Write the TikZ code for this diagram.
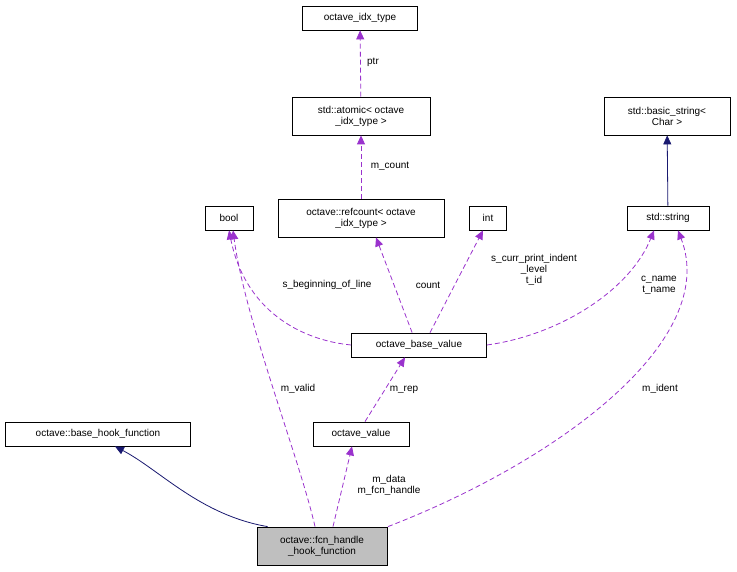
\documentclass[tikz,border=0pt]{standalone}
\usepackage{fontspec}
\setmainfont{Liberation Sans}
\usetikzlibrary{arrows.meta}
\definecolor{dpurple}{RGB}{154,50,205}
\definecolor{dblue}{RGB}{25,25,112}
\begin{document}
\begin{tikzpicture}[x=1pt,y=-1pt,
  box/.style={draw,line width=0.8pt,font=\fontsize{10}{11}\selectfont,align=center,inner sep=2pt,minimum height=24pt},
  dep/.style={color=dpurple,dashed,line width=0.8pt,dash pattern=on 5pt off 3pt,-{Triangle[length=9pt,width=8pt,fill=dpurple]}},
  inh/.style={color=dblue,line width=0.8pt,-{Triangle[length=9pt,width=8pt,fill=dblue]}},
  lbl/.style={font=\fontsize{10}{11}\selectfont,align=center,inner sep=1pt,text=black}]
\useasboundingbox (0,0) rectangle (737,572);
\node[box,minimum width=115pt] (idx) at (360,18) {octave\_idx\_type};
\node[box,minimum width=138pt,minimum height=38pt] (atm) at (361,116) {std::atomic< octave\\\_idx\_type >};
\node[box,minimum width=166pt,minimum height=38pt] (ref) at (361,218) {octave::refcount< octave\\\_idx\_type >};
\node[box,minimum width=48pt] (bool) at (229,218) {bool};
\node[box,minimum width=37pt] (int) at (488,218) {int};
\node[box,minimum width=126pt,minimum height=38pt] (bs) at (667,116) {std::basic\_string<\\Char >};
\node[box,minimum width=82pt] (str) at (668,218) {std::string};
\node[box,minimum width=135pt] (obv) at (419,345) {octave\_base\_value};
\node[box,minimum width=96pt] (ov) at (361,434) {octave\_value};
\node[box,minimum width=185pt] (bhf) at (98,434) {octave::base\_hook\_function};
\node[box,minimum width=130pt,minimum height=38pt,fill={rgb,255:red,191;green,191;blue,191}] (fcn) at (322,546) {octave::fcn\_handle\\\_hook\_function};

\draw[dep] (atm) -- (idx);
\node[lbl] at (373,62) {ptr};
\draw[dep] (ref) -- (atm);
\node[lbl] at (390,166) {m\_count};
\draw[dep] (obv.north west) ++(61,0) -- ([xshift=15pt]ref.south);
\node[lbl] at (428,285) {count};
\draw[dep] (obv.west) .. controls (300,340) and (245,310) .. (bool.south);
\node[lbl] at (327,285) {s\_beginning\_of\_line};
\draw[dep] ([xshift=11pt]obv.north) -- ([xshift=-5pt]int.south);
\node[lbl] at (534,270) {s\_curr\_print\_indent\\\_level\\t\_id};
\draw[dep] (obv.east) .. controls (560,335) and (630,290) .. ([xshift=-14pt]str.south);
\node[lbl] at (659,285) {c\_name\\t\_name};
\draw[inh] (str) -- (bs);
\draw[dep] ([xshift=4pt]ov.north) -- ([xshift=-14pt]obv.south);
\node[lbl] at (404,390) {m\_rep};
\draw[dep] ([xshift=-7pt]fcn.north) .. controls (300,460) and (245,320) .. ([xshift=4pt]bool.south);
\node[lbl] at (298,389) {m\_valid};
\draw[dep] ([xshift=11pt]fcn.north) -- ([xshift=-9pt]ov.south);
\node[lbl] at (389,485) {m\_data\\m\_fcn\_handle};
\draw[dep] ([xshift=66pt]fcn.north) .. controls (560,460) and (720,340) .. ([xshift=10pt]str.south);
\node[lbl] at (660,389) {m\_ident};
\draw[inh] (fcn.north west) ++(11,0) .. controls (200,515) and (160,470) .. ([xshift=17pt]bhf.south);
\end{tikzpicture}
\end{document}
